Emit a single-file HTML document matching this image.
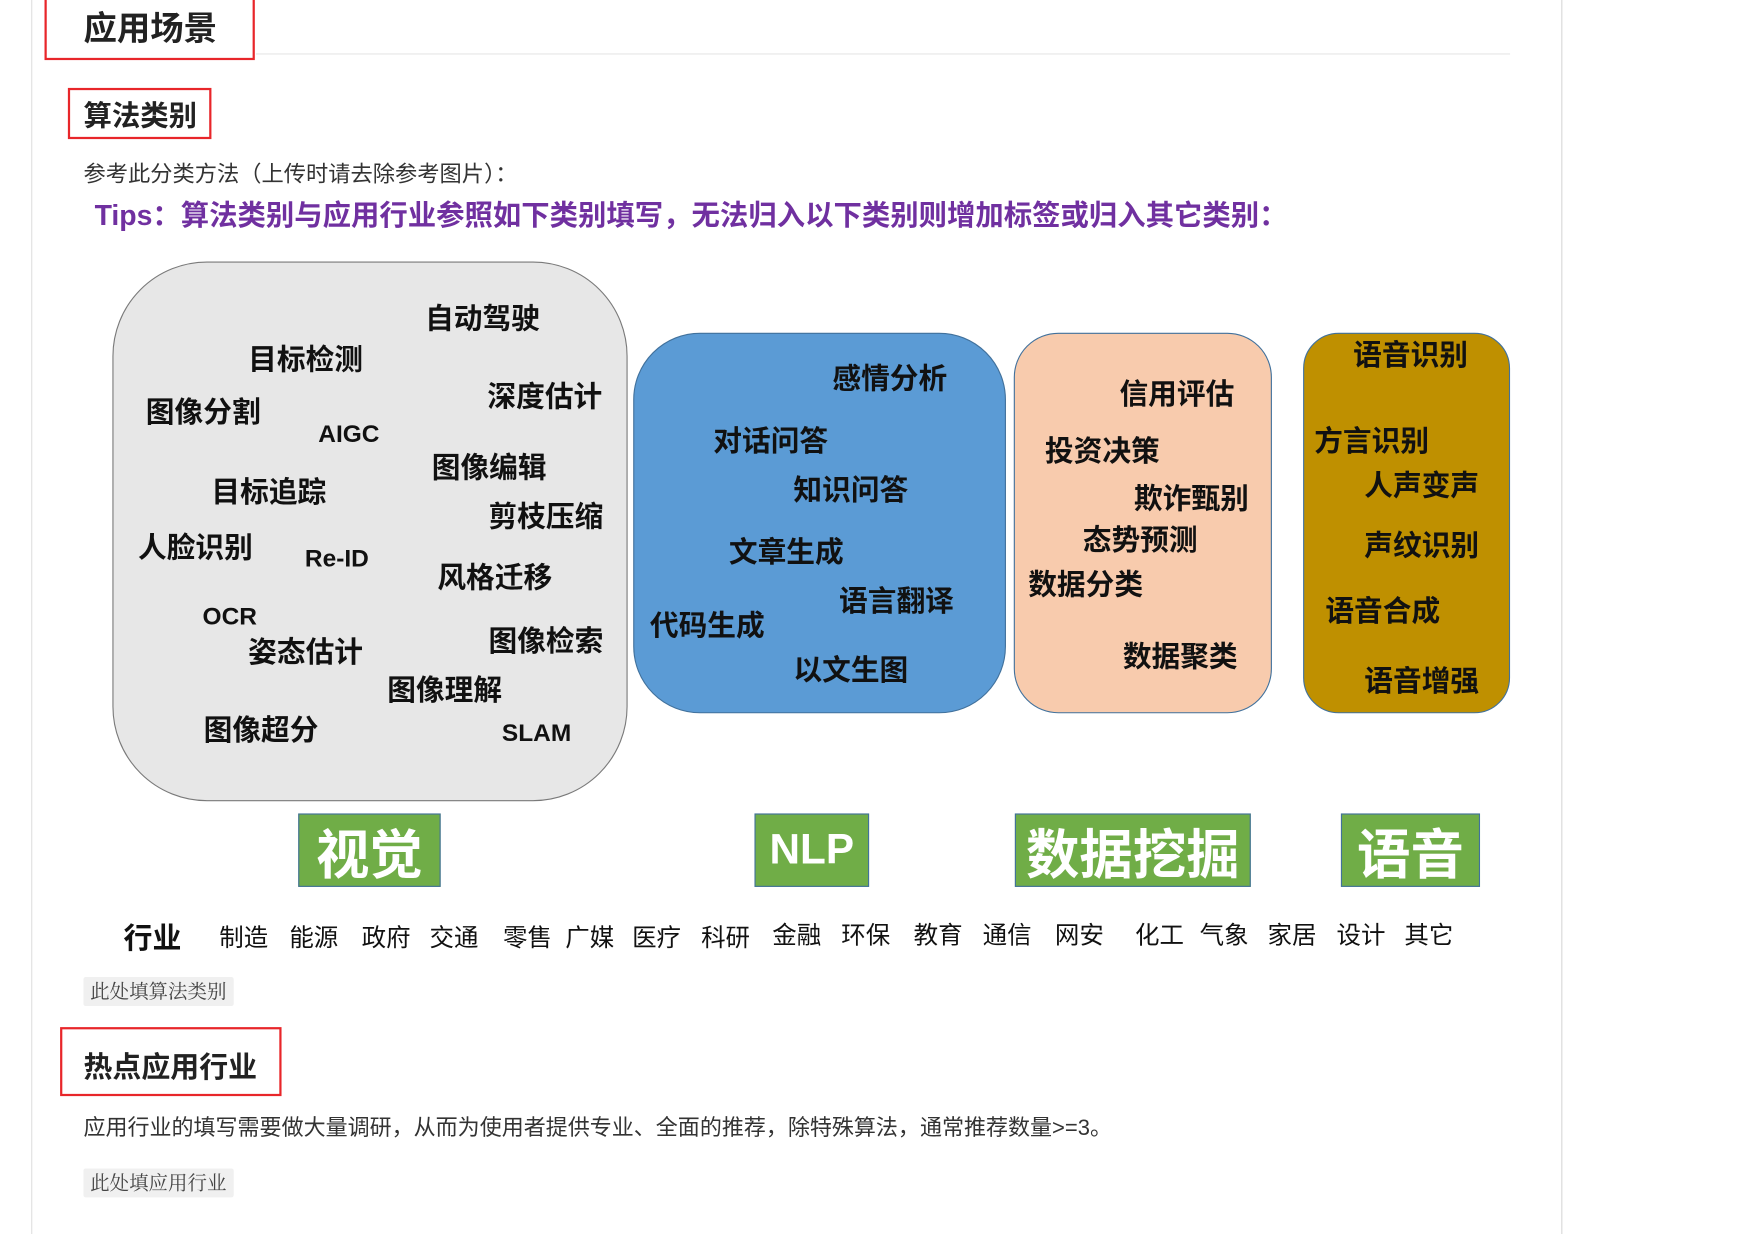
<!DOCTYPE html>
<html><head><meta charset="utf-8"><style>
html,body{margin:0;padding:0;background:#fff;}
body{width:1746px;height:1234px;overflow:hidden;position:relative;font-family:"Liberation Sans","Noto Sans CJK SC",sans-serif;}
#w{position:absolute;left:0;top:0;width:1569px;height:1109px;transform:scale(1.1128);transform-origin:0 0;}
.a{position:absolute;white-space:nowrap;}
.t{position:absolute;white-space:nowrap;font-weight:bold;font-size:25.8px;color:#111;line-height:1;transform:translateY(-50%);}
.e{font-size:22px;}
.box{position:absolute;box-sizing:border-box;}
.g{position:absolute;background:#70ad47;border:1.5px solid #41719c;color:#fff;font-weight:bold;display:flex;align-items:center;justify-content:center;box-sizing:border-box;}
.ind{position:absolute;top:843px;transform:translateY(-50%);font-size:22px;color:#111;line-height:1;}
.tag{position:absolute;background:#f0f0f0;color:#444;font-family:"Liberation Serif","Noto Serif CJK SC",serif;font-size:17.5px;padding:2px 6px;border-radius:2px;line-height:22px;}
.red{position:absolute;border:2px solid #e8262a;box-sizing:border-box;}
</style></head><body><div id="w">
<div class="a" style="left:28px;top:0;width:1px;height:1109px;background:#e0e0e0"></div>
<div class="a" style="left:1403px;top:0;width:1px;height:1109px;background:#d8d8d8"></div>
<div class="red" style="left:40px;top:-2px;width:189px;height:56px"></div>
<div class="a" style="left:75px;top:1px;font-size:30px;font-weight:bold;color:#222">应用场景</div>
<div class="a" style="left:230px;top:48px;width:1127px;height:1px;background:#e6e6e6"></div>
<div class="red" style="left:61px;top:79px;width:129px;height:46px"></div>
<div class="a" style="left:75px;top:84px;font-size:25.5px;font-weight:bold;color:#222">算法类别</div>
<div class="a" style="left:75px;top:140px;font-size:20px;color:#333">参考此分类方法（上传时请去除参考图片）：</div>
<div class="a" style="left:85px;top:173px;font-size:25.5px;font-weight:bold;color:#7030a0">Tips：算法类别与应用行业参照如下类别填写，无法归入以下类别则增加标签或归入其它类别：</div>

<div class="box" style="left:101px;top:235px;width:463px;height:485px;background:#e7e7e7;border:1.5px solid #7a7a7a;border-radius:85px"></div>
<div class="box" style="left:569px;top:299px;width:335px;height:342px;background:#5b9bd5;border:1.5px solid #41719c;border-radius:60px"></div>
<div class="box" style="left:911px;top:299px;width:232px;height:342px;background:#f8cbad;border:1.5px solid #41719c;border-radius:40px"></div>
<div class="box" style="left:1171px;top:299px;width:186px;height:342px;background:#bf9000;border:1.5px solid #41719c;border-radius:32px"></div>

<div class="t" style="left:382px;top:288px">自动驾驶</div>
<div class="t" style="left:223px;top:325px">目标检测</div>
<div class="t" style="left:438px;top:358px">深度估计</div>
<div class="t" style="left:131px;top:372px">图像分割</div>
<div class="t e" style="left:286px;top:390px">AIGC</div>
<div class="t" style="left:388px;top:422px">图像编辑</div>
<div class="t" style="left:190px;top:444px">目标追踪</div>
<div class="t" style="left:439px;top:466px">剪枝压缩</div>
<div class="t" style="left:124px;top:494px">人脸识别</div>
<div class="t e" style="left:274px;top:502px">Re-ID</div>
<div class="t" style="left:393px;top:521px">风格迁移</div>
<div class="t e" style="left:182px;top:554px">OCR</div>
<div class="t" style="left:223px;top:588px">姿态估计</div>
<div class="t" style="left:439px;top:578px">图像检索</div>
<div class="t" style="left:348px;top:622px">图像理解</div>
<div class="t" style="left:183px;top:658px">图像超分</div>
<div class="t e" style="left:451px;top:659px">SLAM</div>

<div class="t" style="left:748px;top:342px">感情分析</div>
<div class="t" style="left:641px;top:398px">对话问答</div>
<div class="t" style="left:713px;top:442px">知识问答</div>
<div class="t" style="left:655px;top:498px">文章生成</div>
<div class="t" style="left:754px;top:542px">语言翻译</div>
<div class="t" style="left:584px;top:564px">代码生成</div>
<div class="t" style="left:713px;top:604px">以文生图</div>

<div class="t" style="left:1006px;top:356px">信用评估</div>
<div class="t" style="left:939px;top:407px">投资决策</div>
<div class="t" style="left:1019px;top:450px">欺诈甄别</div>
<div class="t" style="left:973px;top:487px">态势预测</div>
<div class="t" style="left:924px;top:527px">数据分类</div>
<div class="t" style="left:1009px;top:592px">数据聚类</div>

<div class="t" style="left:1216px;top:321px">语音识别</div>
<div class="t" style="left:1181px;top:398px">方言识别</div>
<div class="t" style="left:1226px;top:438px">人声变声</div>
<div class="t" style="left:1226px;top:492px">声纹识别</div>
<div class="t" style="left:1191px;top:551px">语音合成</div>
<div class="t" style="left:1226px;top:614px">语音增强</div>

<div class="g" style="left:268px;top:731px;width:128px;height:66px;font-size:48px">视觉</div>
<div class="g" style="left:678px;top:731px;width:103px;height:66px;font-size:38px">NLP</div>
<div class="g" style="left:912px;top:731px;width:212px;height:66px;font-size:48px">数据挖掘</div>
<div class="g" style="left:1205px;top:731px;width:125px;height:66px;font-size:48px">语音</div>

<div class="ind" style="left:111px;font-size:26px;font-weight:bold">行业</div>
<div class="ind" style="left:197px">制造</div>
<div class="ind" style="left:260px">能源</div>
<div class="ind" style="left:325px">政府</div>
<div class="ind" style="left:386px">交通</div>
<div class="ind" style="left:452px">零售</div>
<div class="ind" style="left:508px">广媒</div>
<div class="ind" style="left:568px">医疗</div>
<div class="ind" style="left:630px">科研</div>
<div class="ind" style="left:694px;top:841px">金融</div>
<div class="ind" style="left:756px;top:841px">环保</div>
<div class="ind" style="left:821px;top:841px">教育</div>
<div class="ind" style="left:883px;top:841px">通信</div>
<div class="ind" style="left:948px;top:841px">网安</div>
<div class="ind" style="left:1020px;top:841px">化工</div>
<div class="ind" style="left:1078px;top:841px">气象</div>
<div class="ind" style="left:1139px;top:841px">家居</div>
<div class="ind" style="left:1201px;top:841px">设计</div>
<div class="ind" style="left:1262px;top:841px">其它</div>

<div class="tag" style="left:75px;top:878px">此处填算法类别</div>
<div class="red" style="left:54px;top:923px;width:199px;height:62px"></div>
<div class="a" style="left:75px;top:939px;font-size:26px;font-weight:bold;color:#222">热点应用行业</div>
<div class="a" style="left:75px;top:997px;font-size:19.8px;color:#333">应用行业的填写需要做大量调研，从而为使用者提供专业、全面的推荐，除特殊算法，通常推荐数量&gt;=3。</div>
<div class="tag" style="left:75px;top:1050px">此处填应用行业</div>
</div></body></html>
